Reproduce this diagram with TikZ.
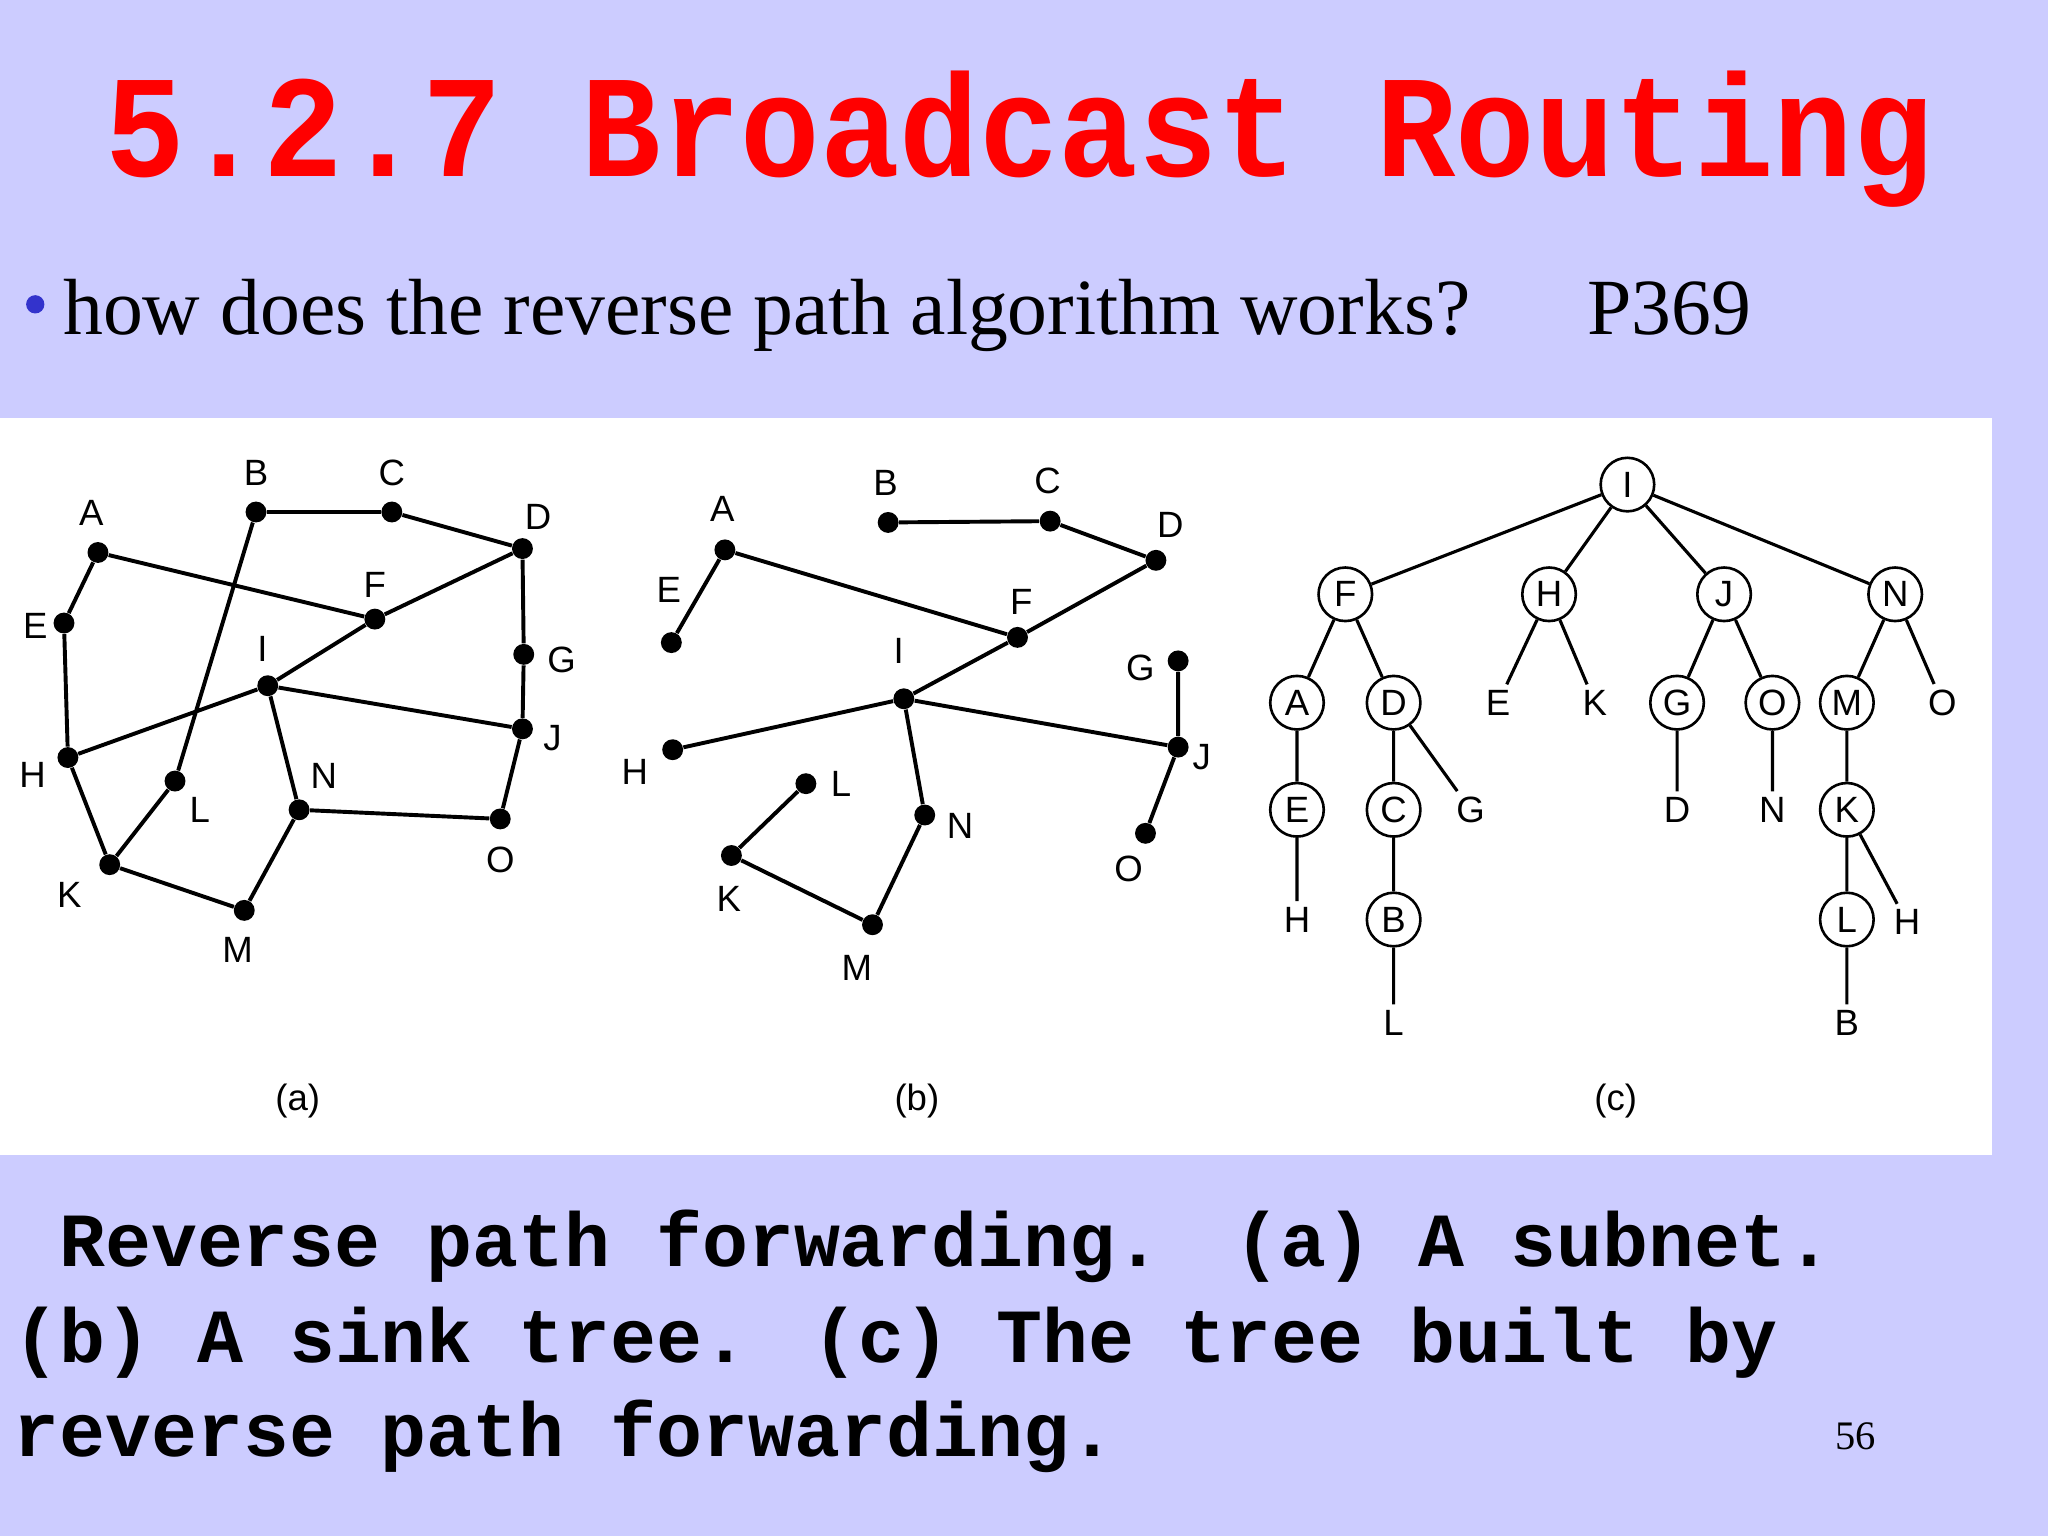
\documentclass[tikz,border=0pt]{standalone}
\usepackage{graphicx}
\usepackage{fontspec}
\setmainfont{Liberation Serif}
\newfontfamily\labfont{Liberation Sans}
\newfontfamily\monofont{Liberation Mono}
\definecolor{bgl}{RGB}{204,204,255}
\definecolor{bulletblue}{RGB}{51,51,204}
\begin{document}
\begin{tikzpicture}[x=0.5pt,y=-0.5pt,
 dot/.style={circle,fill=black,inner sep=0pt,minimum size=8pt},
 lab/.style={font=\labfont\fontsize{14}{14}\selectfont,inner sep=1pt},
 cnode/.style={circle,draw,line width=1pt,minimum size=20.5pt,inner sep=0pt,fill=white,font=\labfont\fontsize{14}{14}\selectfont},
 leaf/.style={font=\labfont\fontsize{14}{14}\selectfont,inner sep=2pt},
 edge/.style={line width=1.5pt},
 tedge/.style={line width=1.2pt},
 capline/.style={anchor=base west,inner sep=0pt,font=\monofont\bfseries\fontsize{29.3}{29.3}\selectfont}]
\fill[bgl] (0,0) rectangle (1568,1176);
\fill[white] (0,320) rectangle (1525,884);
\useasboundingbox (0,0) rectangle (1568,1176);

% title
\node[anchor=base west,inner sep=0pt,text=red,font=\monofont\bfseries\fontsize{50.7}{50.7}\selectfont] (title) at (80,135) {\scalebox{1}[1.1]{5.2.7 Broadcast Routing}};

% bullet line
\node[circle,fill=bulletblue,inner sep=0pt,minimum size=7pt] (bul) at (27,233) {};
\node[anchor=base west,inner sep=0pt,font=\fontsize{30.5}{30.5}\selectfont] (q) at (48,256) {how does the reverse path algorithm works?};
\node[anchor=base west,inner sep=0pt,font=\fontsize{30.5}{30.5}\selectfont] (p) at (1215,256) {P369};

% ---------- panel (a) ----------
\node[dot] (aA) at (75,423) {};  \node[lab] (aAl) at (70,393) {A};
\node[dot] (aB) at (196,392) {}; \node[lab] (aBl) at (196,362) {B};
\node[dot] (aC) at (300,392) {}; \node[lab] (aCl) at (300,362) {C};
\node[dot] (aD) at (400,420) {}; \node[lab] (aDl) at (412,396) {D};
\node[dot] (aE) at (49,477) {};  \node[lab] (aEl) at (27,479) {E};
\node[dot] (aF) at (287,474) {}; \node[lab] (aFl) at (287,448) {F};
\node[dot] (aG) at (401,501) {}; \node[lab] (aGl) at (430,505) {G};
\node[dot] (aI) at (205,525) {}; \node[lab] (aIl) at (201,497) {I};
\node[dot] (aJ) at (400,558) {}; \node[lab] (aJl) at (423,565) {J};
\node[dot] (aH) at (52,580) {};  \node[lab] (aHl) at (25,593) {H};
\node[dot] (aL) at (134,598) {}; \node[lab] (aLl) at (153,620) {L};
\node[dot] (aN) at (229,620) {}; \node[lab] (aNl) at (248,594) {N};
\node[dot] (aO) at (383,627) {}; \node[lab] (aOl) at (383,658) {O};
\node[dot] (aK) at (84,662) {};  \node[lab] (aKl) at (53,685) {K};
\node[dot] (aM) at (187,697) {}; \node[lab] (aMl) at (182,727) {M};
\node[lab] (capa) at (228,843) {(a)};
\draw[edge] (aA)--(aE) (aA)--(aF) (aB)--(aC) (aC)--(aD) (aB)--(aL) (aD)--(aF)
  (aF)--(aI) (aI)--(aH) (aD)--(aG) (aG)--(aJ) (aI)--(aJ) (aI)--(aN) (aE)--(aH)
  (aH)--(aK) (aK)--(aL) (aK)--(aM) (aM)--(aN) (aN)--(aO) (aO)--(aJ);

% ---------- panel (b) ----------
\node[dot] (bA) at (555,421) {}; \node[lab] (bAl) at (553,390) {A};
\node[dot] (bE) at (514,492) {}; \node[lab] (bEl) at (512,452) {E};
\node[dot] (bB) at (680,400) {}; \node[lab] (bBl) at (678,370) {B};
\node[dot] (bC) at (804,399) {}; \node[lab] (bCl) at (802,368) {C};
\node[dot] (bD) at (885,429) {}; \node[lab] (bDl) at (896,402) {D};
\node[dot] (bF) at (779,488) {}; \node[lab] (bFl) at (782,461) {F};
\node[dot] (bI) at (692,535) {}; \node[lab] (bIl) at (688,498) {I};
\node[dot] (bG) at (902,506) {}; \node[lab] (bGl) at (873,511) {G};
\node[dot] (bJ) at (902,572) {}; \node[lab] (bJl) at (920,580) {J};
\node[dot] (bH) at (515,574) {}; \node[lab] (bHl) at (486,591) {H};
\node[dot] (bL) at (617,600) {}; \node[lab] (bLl) at (644,600) {L};
\node[dot] (bN) at (708,624) {}; \node[lab] (bNl) at (735,632) {N};
\node[dot] (bK) at (560,655) {}; \node[lab] (bKl) at (558,688) {K};
\node[dot] (bO) at (877,638) {}; \node[lab] (bOl) at (864,665) {O};
\node[dot] (bM) at (668,708) {}; \node[lab] (bMl) at (656,741) {M};
\node[lab] (capb) at (702,843) {(b)};
\draw[edge] (bA)--(bE) (bA)--(bF) (bB)--(bC) (bC)--(bD) (bD)--(bF) (bF)--(bI)
  (bI)--(bH) (bI)--(bJ) (bI)--(bN) (bG)--(bJ) (bJ)--(bO) (bL)--(bK) (bK)--(bM) (bM)--(bN);

% ---------- panel (c) ----------
\node[cnode] (cI) at (1246,371) {I};
\node[cnode] (cF) at (1030,455) {F};
\node[cnode] (cH) at (1186,455) {H};
\node[cnode] (cJ) at (1320,455) {J};
\node[cnode] (cN) at (1451,455) {N};
\node[cnode] (cA) at (993,538) {A};
\node[cnode] (cD) at (1067,538) {D};
\node[leaf] (cEx) at (1147,538) {E};
\node[leaf] (cKx) at (1221,538) {K};
\node[cnode] (cG) at (1284,538) {G};
\node[cnode] (cO) at (1357,538) {O};
\node[cnode] (cM) at (1414,538) {M};
\node[leaf] (cOx) at (1487,538) {O};
\node[cnode] (cE) at (993,620) {E};
\node[cnode] (cC) at (1067,620) {C};
\node[leaf] (cGx) at (1126,620) {G};
\node[leaf] (cDx) at (1284,620) {D};
\node[leaf] (cNx) at (1357,620) {N};
\node[cnode] (cK) at (1414,620) {K};
\node[leaf] (cHx) at (993,704) {H};
\node[cnode] (cB) at (1067,704) {B};
\node[cnode] (cL) at (1414,704) {L};
\node[leaf] (cHy) at (1460,706) {H};
\node[leaf] (cLx) at (1067,783) {L};
\node[leaf] (cBx) at (1414,783) {B};
\node[lab] (capc) at (1237,843) {(c)};
\draw[tedge] (cI)--(cF) (cI)--(cH) (cI)--(cJ) (cI)--(cN)
  (cF)--(cA) (cF)--(cD) (cH)--(cEx) (cH)--(cKx) (cJ)--(cG) (cJ)--(cO)
  (cN)--(cM) (cN)--(cOx) (cA)--(cE) (cD)--(cC) (cD)--(cGx) (cG)--(cDx)
  (cO)--(cNx) (cM)--(cK) (cE)--(cHx) (cC)--(cB) (cK)--(cL) (cK)--(cHy)
  (cB)--(cLx) (cL)--(cBx);

% caption
\node[capline] (cap1) at (45,970) {Reverse path forwarding.\hspace{0.96em}(a) A subnet.};
\node[capline] (cap2) at (10,1043) {(b) A sink tree.\hspace{0.84em}(c) The tree built by};
\node[capline] (cap3) at (10,1115) {reverse path forwarding.};
\node[anchor=base west,inner sep=0pt,font=\fontsize{15.5}{15.5}\selectfont] (pg) at (1405,1110) {56};
\end{tikzpicture}
\end{document}
